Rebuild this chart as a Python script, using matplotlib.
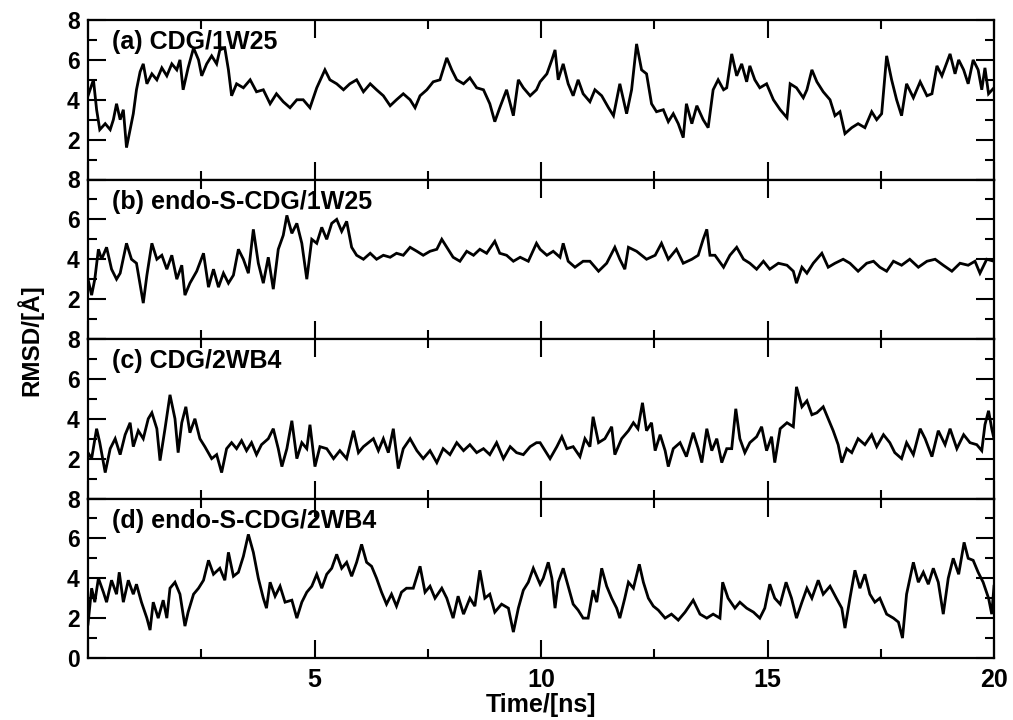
import matplotlib
matplotlib.use("Agg")
import matplotlib.pyplot as plt
from matplotlib.ticker import MultipleLocator, FixedLocator, FixedFormatter

plt.rcParams['font.family'] = ['Liberation Sans', 'DejaVu Sans']
plt.rcParams['font.weight'] = 'bold'

# ---------------- data ----------------
t_a = [0, .12, .19, .26, .38, .49, .56, .63, .71, .78, .85, .93, 1.00, 1.07, 1.15, 1.22, 1.30, 1.41, 1.52, 1.63,
       1.74, 1.85, 1.96, 2.03, 2.10, 2.21, 2.33, 2.44, 2.51, 2.62, 2.73, 2.84, 2.91, 3.02, 3.10, 3.17, 3.28, 3.43,
       3.58, 3.72, 3.87, 4.02, 4.16, 4.31, 4.46, 4.61, 4.75, 4.90, 5.05, 5.23, 5.34, 5.49, 5.64, 5.78, 5.93, 6.08,
       6.23, 6.37, 6.52, 6.67, 6.81, 6.96, 7.11, 7.22, 7.33, 7.48, 7.62, 7.77, 7.92, 8.03, 8.14, 8.29, 8.43, 8.58,
       8.73, 8.87, 8.98, 9.09, 9.24, 9.39, 9.50, 9.61, 9.76, 9.90,
       9.98, 10.13, 10.24, 10.31, 10.38, 10.49, 10.60, 10.71, 10.82, 10.93, 11.08, 11.19, 11.34, 11.49, 11.60,
       11.74, 11.89, 12.00, 12.11, 12.22, 12.33, 12.44, 12.55, 12.70, 12.81, 12.92, 13.03, 13.14, 13.21, 13.33,
       13.44, 13.58, 13.69, 13.80, 13.91, 14.03, 14.10, 14.21, 14.32, 14.43, 14.54, 14.61, 14.72, 14.83, 14.98,
       15.13, 15.28, 15.43, 15.50, 15.64, 15.79, 15.87, 15.98, 16.09, 16.23, 16.38, 16.49, 16.60, 16.71, 16.86,
       17.00, 17.15, 17.30, 17.41, 17.52, 17.63, 17.74, 17.85, 17.96, 18.07, 18.22, 18.37, 18.52, 18.63, 18.74,
       18.85, 19.03, 19.14, 19.22, 19.33, 19.43, 19.54, 19.65, 19.73, 19.80, 19.88, 20.0]
rmsd_a = [4.2, 5.0, 3.5, 2.5, 2.8, 2.5, 3.0, 3.8, 3.0, 3.5, 1.6, 2.5, 3.3, 4.5, 5.4, 5.8, 4.8, 5.3, 5.0, 5.6,
          5.2, 5.8, 5.5, 6.0, 4.5, 5.6, 6.6, 6.0, 5.2, 5.8, 6.2, 5.8, 6.5, 6.6, 5.5, 4.2, 4.8, 4.6,
          5.0, 4.4, 4.5, 3.8, 4.3, 3.9, 3.6, 4.0, 4.0, 3.6, 4.6, 5.5, 5.0, 4.8, 4.5, 4.8, 5.0, 4.4,
          4.8, 4.5, 4.2, 3.7, 4.0, 4.3, 4.0, 3.6, 4.2, 4.5, 4.9, 5.0, 6.1, 5.5, 5.0, 4.8, 5.1, 4.6,
          4.5, 3.8, 2.9, 3.6, 4.5, 3.2, 5.0, 4.6, 4.2, 4.5,
          4.9, 5.3, 6.0, 6.5, 5.0, 5.8, 4.8, 4.2, 5.0, 4.3, 3.9, 4.5, 4.2, 3.6, 3.2,
          4.8, 3.3, 4.5, 6.8, 5.5, 5.3, 3.8, 3.4, 3.5, 2.9, 3.3, 2.8, 2.1, 3.8, 2.8,
          3.7, 3.0, 2.6, 4.5, 5.0, 4.5, 4.6, 6.3, 5.2, 5.8, 4.9, 5.7, 5.0, 4.6, 4.8,
          4.0, 3.5, 3.1, 4.8, 4.6, 4.1, 4.5, 5.5, 4.9, 4.4, 4.0, 3.2, 3.4, 2.3, 2.6,
          2.8, 2.6, 3.4, 3.0, 3.3, 6.2, 5.0, 4.0, 3.2, 4.8, 4.1, 4.9, 4.2, 4.3, 5.7,
          5.2, 6.3, 5.3, 6.0, 5.5, 4.8, 6.0, 5.5, 4.5, 5.6, 4.3, 4.6]

t_b = [0, .08, .15, .23, .30, .41, .52, .63, .71, .85, .96, 1.07, 1.22, 1.30, 1.41, 1.52, 1.63, 1.74, 1.85, 1.96,
       2.07, 2.14, 2.25, 2.40, 2.55, 2.66, 2.77, 2.88, 2.99, 3.10, 3.21, 3.32, 3.43, 3.54, 3.65, 3.76, 3.87, 3.98,
       4.09, 4.20, 4.31, 4.39, 4.50, 4.61, 4.72, 4.83, 4.94, 5.05, 5.16, 5.27, 5.38, 5.49, 5.60, 5.71, 5.82, 5.93,
       6.08, 6.23, 6.37, 6.52, 6.67, 6.81, 6.96, 7.11, 7.26, 7.40, 7.55, 7.70, 7.81, 7.92, 8.06, 8.21, 8.36, 8.51,
       8.65, 8.80, 8.98, 9.09, 9.24, 9.39, 9.54, 9.72, 9.90,
       9.98, 10.13, 10.27, 10.42, 10.49, 10.60, 10.75, 10.93, 11.08, 11.27, 11.45, 11.63, 11.74, 11.85, 11.93,
       12.11, 12.33, 12.52, 12.66, 12.81, 12.99, 13.14, 13.33, 13.47, 13.58, 13.66, 13.73, 13.84, 14.03, 14.17,
       14.32, 14.47, 14.61, 14.76, 14.91, 15.05, 15.24, 15.43, 15.57, 15.64, 15.76, 15.87, 16.01, 16.20, 16.34,
       16.49, 16.67, 16.82, 17.00, 17.19, 17.34, 17.48, 17.63, 17.78, 17.96, 18.14, 18.33, 18.52, 18.70, 18.88,
       19.07, 19.25, 19.43, 19.58, 19.69, 19.84, 20.0]
rmsd_b = [3.0, 2.2, 3.0, 4.5, 4.0, 4.6, 3.5, 3.0, 3.3, 4.8, 4.0, 3.8, 1.8, 3.2, 4.8, 4.0, 4.2, 3.5, 4.2, 3.0,
          3.7, 2.2, 2.8, 3.4, 4.3, 2.6, 3.5, 2.6, 3.3, 2.8, 3.2, 4.5, 4.0, 3.3, 5.5, 3.8, 2.8, 4.1,
          2.5, 4.5, 5.2, 6.2, 5.3, 5.8, 4.8, 3.0, 5.0, 4.8, 5.6, 5.0, 5.8, 6.0, 5.4, 5.9, 4.6, 4.2,
          4.0, 4.3, 4.0, 4.2, 4.1, 4.3, 4.2, 4.6, 4.4, 4.2, 4.4, 4.5, 5.0, 4.6, 4.1, 3.9, 4.4, 4.2,
          4.5, 4.3, 4.9, 4.3, 4.2, 3.9, 4.1, 3.9, 4.8,
          4.5, 4.2, 4.4, 4.1, 4.8, 3.9, 3.6, 3.9, 3.9, 3.4, 3.8, 4.6, 4.0, 3.5, 4.6,
          4.4, 4.0, 4.2, 4.8, 4.0, 4.5, 3.8, 4.0, 4.2, 5.0, 5.5, 4.2, 4.2, 3.6, 4.2,
          4.6, 4.0, 3.8, 3.5, 3.9, 3.5, 3.8, 3.7, 3.4, 2.8, 3.6, 3.3, 3.8, 4.3, 3.6,
          3.8, 4.0, 3.8, 3.4, 3.8, 3.9, 3.6, 3.4, 3.9, 3.7, 4.0, 3.6, 3.9, 4.0, 3.7,
          3.4, 3.8, 3.7, 3.9, 3.3, 4.0, 3.9]

t_c = [0, .08, .19, .26, .38, .49, .60, .71, .82, .93, 1.00, 1.11, 1.22, 1.33, 1.41, 1.52, 1.59, 1.70, 1.81, 1.92,
       1.99, 2.07, 2.16, 2.25, 2.36, 2.47, 2.58, 2.73, 2.84, 2.95, 3.06, 3.17, 3.28, 3.39, 3.50, 3.61, 3.72, 3.83,
       3.98, 4.09, 4.20, 4.28, 4.39, 4.50, 4.61, 4.72, 4.83, 4.90, 5.01, 5.12, 5.27, 5.42, 5.56, 5.71, 5.86, 5.97,
       6.08, 6.19, 6.30, 6.41, 6.52, 6.63, 6.74, 6.85, 6.96, 7.11, 7.26, 7.40, 7.55, 7.70, 7.84, 7.99, 8.14, 8.29,
       8.43, 8.58, 8.73, 8.87, 9.02, 9.17, 9.32, 9.46, 9.61, 9.76, 9.90,
       9.98, 10.09, 10.20, 10.35, 10.46, 10.57, 10.71, 10.86, 10.97, 11.08, 11.15, 11.27, 11.41, 11.56, 11.63,
       11.78, 11.93, 12.04, 12.14, 12.24, 12.33, 12.44, 12.52, 12.63, 12.74, 12.81, 12.92, 13.07, 13.21, 13.36,
       13.47, 13.55, 13.66, 13.77, 13.88, 13.99, 14.10, 14.21, 14.30, 14.39, 14.50, 14.61, 14.76, 14.87, 14.98,
       15.09, 15.16, 15.28, 15.43, 15.57, 15.64, 15.76, 15.87, 15.98, 16.09, 16.23, 16.34, 16.45, 16.56, 16.64,
       16.75, 16.86, 17.00, 17.15, 17.30, 17.41, 17.56, 17.70, 17.81, 17.96, 18.07, 18.22, 18.37, 18.48, 18.63,
       18.77, 18.92, 19.03, 19.18, 19.33, 19.47, 19.62, 19.73, 19.80, 19.88, 19.95, 20.0]
rmsd_c = [2.3, 2.0, 3.5, 2.8, 1.3, 2.5, 3.0, 2.2, 3.2, 3.8, 2.6, 3.4, 3.0, 4.0, 4.3, 3.5, 1.9, 3.5, 5.2, 4.0,
          2.3, 3.8, 4.6, 3.3, 4.0, 3.0, 2.6, 2.0, 2.2, 1.3, 2.5, 2.8, 2.5, 2.9, 2.4, 2.8, 2.2, 2.7,
          3.0, 3.5, 2.5, 1.6, 2.5, 3.9, 2.0, 2.8, 2.5, 3.7, 1.6, 2.6, 2.5, 2.0, 2.4, 2.0, 3.4, 2.3,
          2.6, 2.8, 3.0, 2.4, 3.0, 2.3, 3.5, 1.5, 2.5, 3.0, 2.4, 2.0, 2.4, 1.8, 2.5, 2.2, 2.8, 2.4,
          2.7, 2.3, 2.5, 2.2, 2.8, 2.0, 2.6, 2.3, 2.2, 2.6, 2.8,
          2.8, 2.4, 2.0, 2.6, 3.1, 2.5, 2.6, 2.1, 3.0, 2.6, 4.1, 2.8, 3.0, 3.6, 2.2,
          3.0, 3.4, 3.8, 3.5, 4.8, 3.4, 3.8, 2.4, 3.2, 2.4, 1.6, 2.5, 2.8, 2.1, 3.3,
          2.5, 1.8, 3.5, 2.4, 3.0, 1.8, 2.5, 2.5, 4.5, 3.0, 2.3, 2.8, 3.1, 3.6, 2.4,
          3.1, 1.8, 3.5, 3.8, 3.6, 5.6, 4.6, 4.9, 4.2, 4.3, 4.6, 4.0, 3.4, 2.7, 1.8,
          2.5, 2.3, 3.0, 2.7, 3.2, 2.6, 3.2, 2.8, 2.3, 2.0, 2.8, 2.2, 3.5, 3.0, 2.1,
          3.4, 2.7, 3.5, 2.5, 3.2, 2.8, 2.7, 2.4, 3.7, 4.4, 3.5, 3.0]

t_d = [0, .08, .15, .23, .34, .41, .52, .63, .69, .78, .89, 1.00, 1.07, 1.18, 1.30, 1.37, 1.44, 1.55, 1.66, 1.74,
       1.81, 1.92, 2.03, 2.14, 2.21, 2.33, 2.44, 2.55, 2.66, 2.77, 2.91, 3.02, 3.10, 3.21, 3.32, 3.43, 3.54, 3.65,
       3.76, 3.87, 3.94, 4.02, 4.13, 4.24, 4.35, 4.50, 4.61, 4.72, 4.83, 4.94, 5.05, 5.16, 5.27, 5.38, 5.49, 5.60,
       5.71, 5.82, 5.93, 6.04, 6.15, 6.26, 6.37, 6.48, 6.59, 6.70, 6.81, 6.92, 7.03, 7.18, 7.33, 7.44, 7.55, 7.66,
       7.81, 7.92, 8.06, 8.17, 8.29, 8.43, 8.54, 8.65, 8.76, 8.87, 8.98, 9.13, 9.28, 9.39, 9.50, 9.61, 9.72, 9.83,
       9.98, 10.05, 10.16, 10.24, 10.31, 10.38, 10.49, 10.60, 10.71, 10.82, 10.93, 11.04, 11.15, 11.23, 11.34,
       11.45, 11.56, 11.67, 11.74, 11.85, 11.93, 12.04, 12.17, 12.26, 12.37, 12.48, 12.59, 12.74, 12.88, 13.03,
       13.18, 13.36, 13.51, 13.66, 13.80, 13.95, 14.01, 14.13, 14.28, 14.39, 14.54, 14.69, 14.83, 14.94, 15.05,
       15.16, 15.28, 15.41, 15.53, 15.64, 15.76, 15.87, 15.98, 16.12, 16.23, 16.38, 16.52, 16.64, 16.71, 16.82,
       16.93, 17.04, 17.15, 17.26, 17.37, 17.48, 17.63, 17.78, 17.89, 17.98, 18.07, 18.22, 18.33, 18.44, 18.55,
       18.66, 18.77, 18.88, 18.99, 19.10, 19.22, 19.34, 19.43, 19.54, 19.65, 19.76, 19.88, 19.95, 20.0]
rmsd_d = [1.7, 3.5, 2.8, 4.0, 3.3, 2.8, 3.9, 3.2, 4.3, 2.8, 3.9, 3.2, 3.7, 2.8, 2.0, 1.4, 2.8, 2.0, 2.9, 2.0,
          3.5, 3.8, 3.2, 1.6, 2.3, 3.2, 3.5, 3.9, 4.9, 4.2, 4.5, 3.9, 5.3, 4.1, 4.3, 5.1, 6.2, 5.3,
          4.0, 3.0, 2.5, 3.8, 3.1, 3.6, 2.8, 2.9, 2.0, 2.8, 3.3, 3.6, 4.2, 3.5, 4.2, 4.5, 5.2, 4.5,
          4.8, 4.1, 4.8, 5.7, 4.8, 4.6, 4.0, 3.3, 2.7, 3.2, 2.6, 3.3, 3.5, 3.5, 4.6, 3.3, 3.6, 3.0,
          3.5, 3.0, 2.0, 3.1, 2.2, 3.0, 2.6, 4.4, 3.0, 3.2, 2.3, 2.7, 2.5, 1.3, 2.5, 3.4, 3.8, 4.5,
          3.7, 4.0, 4.8, 4.0, 2.5, 3.8, 4.5, 3.6, 2.7, 2.4, 2.0, 2.0, 3.4, 2.8, 4.5,
          3.6, 3.0, 2.5, 2.0, 3.0, 3.8, 3.5, 4.7, 3.8, 3.0, 2.6, 2.4, 2.0, 2.2, 1.9,
          2.3, 2.9, 2.2, 2.0, 2.2, 2.0, 3.8, 3.0, 2.5, 2.8, 2.5, 2.3, 2.0, 2.5, 3.7,
          3.0, 2.7, 3.8, 3.0, 2.0, 2.8, 3.5, 3.0, 3.9, 3.2, 3.6, 3.0, 2.5, 1.5, 3.0,
          4.4, 3.5, 4.2, 3.2, 2.8, 3.0, 2.2, 2.0, 1.8, 1.0, 3.2, 4.8, 3.8, 4.3, 3.7,
          4.5, 3.8, 2.2, 4.0, 5.0, 4.2, 5.8, 5.0, 4.9, 4.3, 3.8, 3.0, 2.2, 3.6]

panel_labels = ["(a) CDG/1W25", "(b) endo-S-CDG/1W25", "(c) CDG/2WB4", "(d) endo-S-CDG/2WB4"]
x_ticks = [0, 5, 10, 15, 20]
x_tick_labels = ["", "5", "10", "15", "20"]
y_ticks = [0, 2, 4, 6, 8]

series = [(t_a, rmsd_a), (t_b, rmsd_b), (t_c, rmsd_c), (t_d, rmsd_d)]

# ---------------- figure ----------------
W, H = 1013, 720
fig = plt.figure(figsize=(W / 100, H / 100), dpi=100)
left_px, right_px = 88, 994
top_px, bottom_px = 20, 658
ph = (bottom_px - top_px) / 4.0

for i, ((t, r), lab) in enumerate(zip(series, panel_labels)):
    y0 = top_px + i * ph
    ax = fig.add_axes([left_px / W, 1 - (y0 + ph) / H, (right_px - left_px) / W, ph / H])
    ax.plot(t, r, color='black', lw=2.0, solid_joinstyle='miter')
    ax.set_xlim(0, 20)
    ax.set_ylim(0, 8)
    ax.xaxis.set_major_locator(FixedLocator(x_ticks))
    ax.xaxis.set_minor_locator(MultipleLocator(2.5))
    ax.yaxis.set_major_locator(FixedLocator(y_ticks))
    ax.yaxis.set_minor_locator(MultipleLocator(1))
    if i == 3:
        ax.xaxis.set_major_formatter(FixedFormatter(x_tick_labels))
        ax.yaxis.set_major_formatter(FixedFormatter([str(v) for v in y_ticks]))
    else:
        ax.xaxis.set_major_formatter(FixedFormatter([""] * len(x_ticks)))
        ax.yaxis.set_major_formatter(FixedFormatter([""] + [str(v) for v in y_ticks[1:]]))
    ax.tick_params(which='both', direction='in', top=True, right=True, width=1.5)
    ax.tick_params(which='major', length=13)
    ax.tick_params(which='minor', length=6.5)
    ax.tick_params(axis='y', labelsize=16.5, pad=6)
    ax.tick_params(axis='x', labelsize=18, pad=7)
    for s in ax.spines.values():
        s.set_linewidth(1.6)
    for lbl in ax.get_xticklabels() + ax.get_yticklabels():
        lbl.set_fontweight('bold')
    ax.text(0.026, 0.86, lab, transform=ax.transAxes, fontsize=18, fontweight='bold',
            ha='left', va='center')

fig.text(30 / W, 1 - 340 / H, "RMSD/[Å]", rotation=90, ha='center', va='center',
         fontsize=17.5, fontweight='bold')
fig.text(541 / W, 1 - 705 / H, "Time/[ns]", ha='center', va='center',
         fontsize=18, fontweight='bold')

fig.savefig("out.png", dpi=100)
